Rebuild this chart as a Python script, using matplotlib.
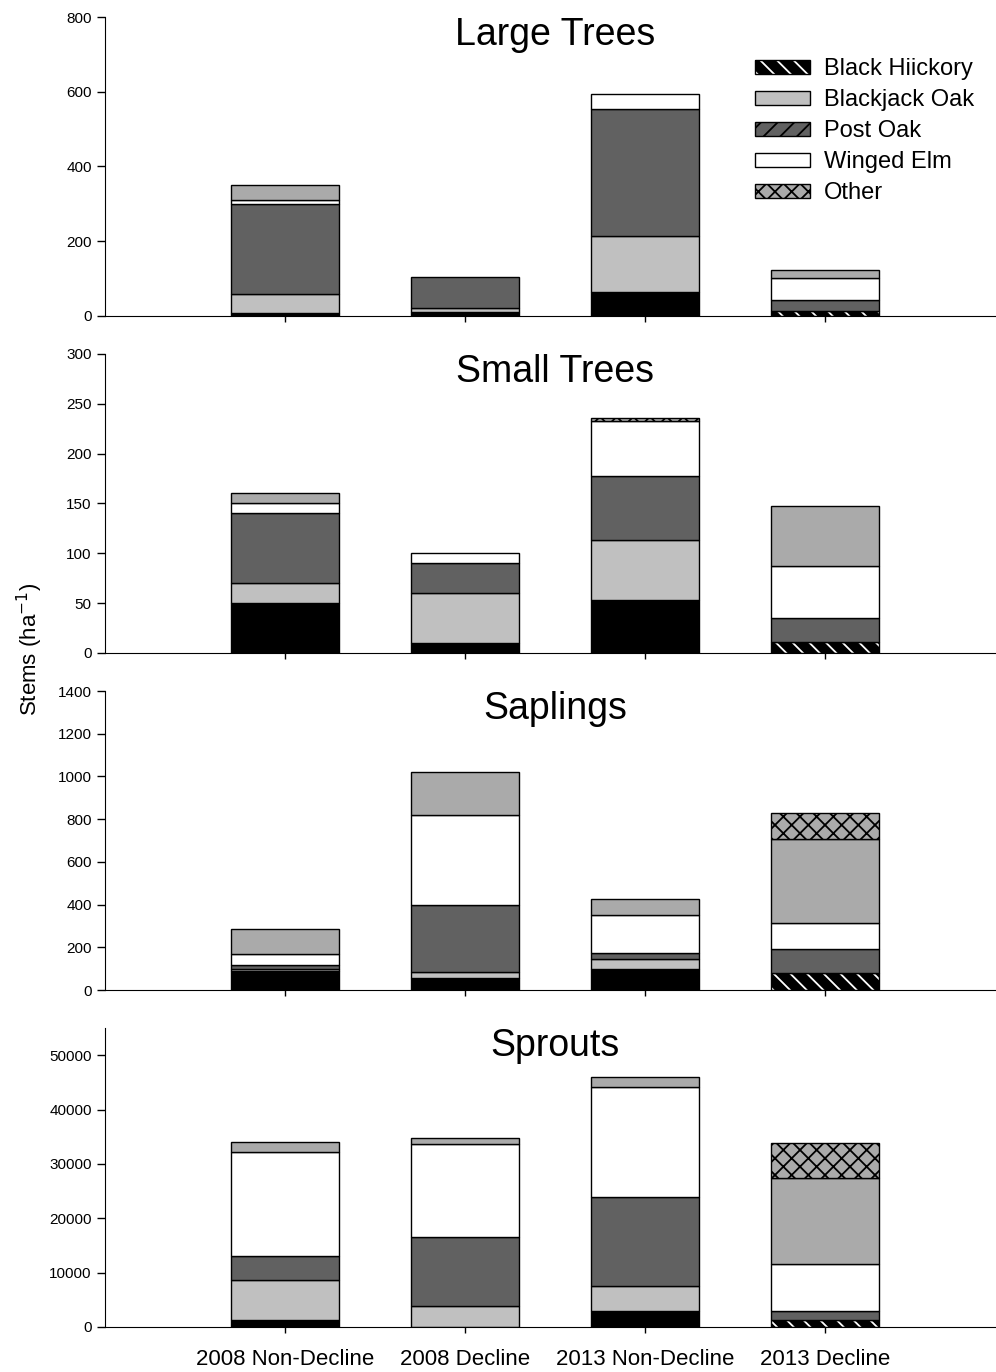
import matplotlib
matplotlib.use("Agg")
from matplotlib import pyplot as plt
from matplotlib.patches import Patch

plt.rcParams['font.family'] = ['Liberation Sans', 'DejaVu Sans']
plt.rcParams['hatch.linewidth'] = 1.3

groups = ["2008 Non-Decline", "2008 Decline", "2013 Non-Decline", "2013 Decline"]
species = ["Black Hiickory", "Blackjack Oak", "Post Oak", "Winged Elm", "Other"]

# segment heights per panel, bottom to top
# order: black hickory, blackjack oak, post oak, winged elm, gray, other (hatched)
large_bh = [8, 10, 65, 12]
large_bj = [52, 10, 150, 0]
large_po = [240, 85, 340, 30]
large_we = [10, 0, 40, 60]
large_gr = [40, 0, 0, 20]
large_ot = [0, 0, 0, 0]

small_bh = [50, 10, 53, 11]
small_bj = [20, 50, 60, 0]
small_po = [70, 30, 65, 24]
small_we = [10, 10, 55, 52]
small_gr = [10, 0, 0, 60]
small_ot = [0, 0, 3, 0]

sap_bh = [90, 56, 97, 78]
sap_bj = [10, 30, 47, 0]
sap_po = [15, 314, 28, 112]
sap_we = [53, 418, 179, 122]
sap_gr = [120, 201, 74, 395]
sap_ot = [0, 0, 0, 120]

spr_bh = [1230, 0, 2940, 1290]
spr_bj = [7350, 3800, 4600, 0]
spr_po = [4470, 12800, 16410, 1710]
spr_we = [19060, 17040, 20150, 8530]
spr_gr = [1840, 1100, 1900, 15920]
spr_ot = [0, 0, 0, 6490]

panels = [
    ("Large Trees", [large_bh, large_bj, large_po, large_we, large_gr, large_ot], 800, 800, 200),
    ("Small Trees", [small_bh, small_bj, small_po, small_we, small_gr, small_ot], 300, 300, 50),
    ("Saplings", [sap_bh, sap_bj, sap_po, sap_we, sap_gr, sap_ot], 1400, 1400, 200),
    ("Sprouts", [spr_bh, spr_bj, spr_po, spr_we, spr_gr, spr_ot], 55000, 50000, 10000),
]

colors = ["#000000", "#c0c0c0", "#616161", "#ffffff", "#aaaaaa", "#aaaaaa"]

fig = plt.figure(figsize=(9.96, 13.72), dpi=100)
bottoms_fig = [0.7697, 0.5241, 0.2784, 0.0328]
x = [1, 2, 3, 4]
width = 0.6

for p, (title, segs, ymax, ytop, ystep) in enumerate(panels):
    ax = fig.add_axes([0.1054, bottoms_fig[p], 0.8936, 0.2179])
    base = [0, 0, 0, 0]
    for s, vals in enumerate(segs):
        for i in range(4):
            v = vals[i]
            if v <= 0:
                continue
            if s == 0 and i == 3:
                ax.bar(x[i], v, width, bottom=base[i], color="black", edgecolor="white",
                       hatch="\\\\", linewidth=0)
                ax.bar(x[i], v, width, bottom=base[i], fill=False, edgecolor="black", linewidth=1)
            elif s == 5:
                ax.bar(x[i], v, width, bottom=base[i], color=colors[s], edgecolor="black",
                       hatch="xx", linewidth=1)
            else:
                ax.bar(x[i], v, width, bottom=base[i], color=colors[s], edgecolor="black",
                       linewidth=1)
            base[i] += v
    ax.set_xlim(0, 4.944)
    ax.set_ylim(0, ymax)
    ax.set_yticks(range(0, ytop + 1, ystep))
    ax.set_xticks(x)
    if p == 3:
        ax.set_xticklabels(groups, fontsize=16)
    else:
        ax.set_xticklabels([])
    ax.tick_params(axis='y', labelsize=11, length=6, width=1)
    ax.tick_params(axis='x', length=4, width=1, pad=12)
    ax.spines['top'].set_visible(False)
    ax.spines['right'].set_visible(False)
    ax.text(0.506, 0.94, title, transform=ax.transAxes, ha='center', va='center', fontsize=27)

    if p == 0:
        handles = [
            (Patch(facecolor="black", edgecolor="white", hatch="\\\\", linewidth=0),
             Patch(fill=False, edgecolor="black", linewidth=1)),
            Patch(facecolor="#c0c0c0", edgecolor="black", linewidth=1),
            Patch(facecolor="#616161", edgecolor="black", hatch="//", linewidth=1),
            Patch(facecolor="white", edgecolor="black", linewidth=1),
            Patch(facecolor="#aaaaaa", edgecolor="black", hatch="xx", linewidth=1),
        ]
        ax.legend(handles, species, loc='upper left', bbox_to_anchor=(0.73, 0.862),
                  frameon=False, fontsize=17, handlelength=2.35, handleheight=0.5,
                  labelspacing=0.38, handletextpad=0.6, borderpad=0, borderaxespad=0)

fig.text(0.03, 0.527, "Stems (ha$^{-1}$)", rotation=90, ha='center', va='center', fontsize=16)

fig.savefig("out.png", dpi=100)
